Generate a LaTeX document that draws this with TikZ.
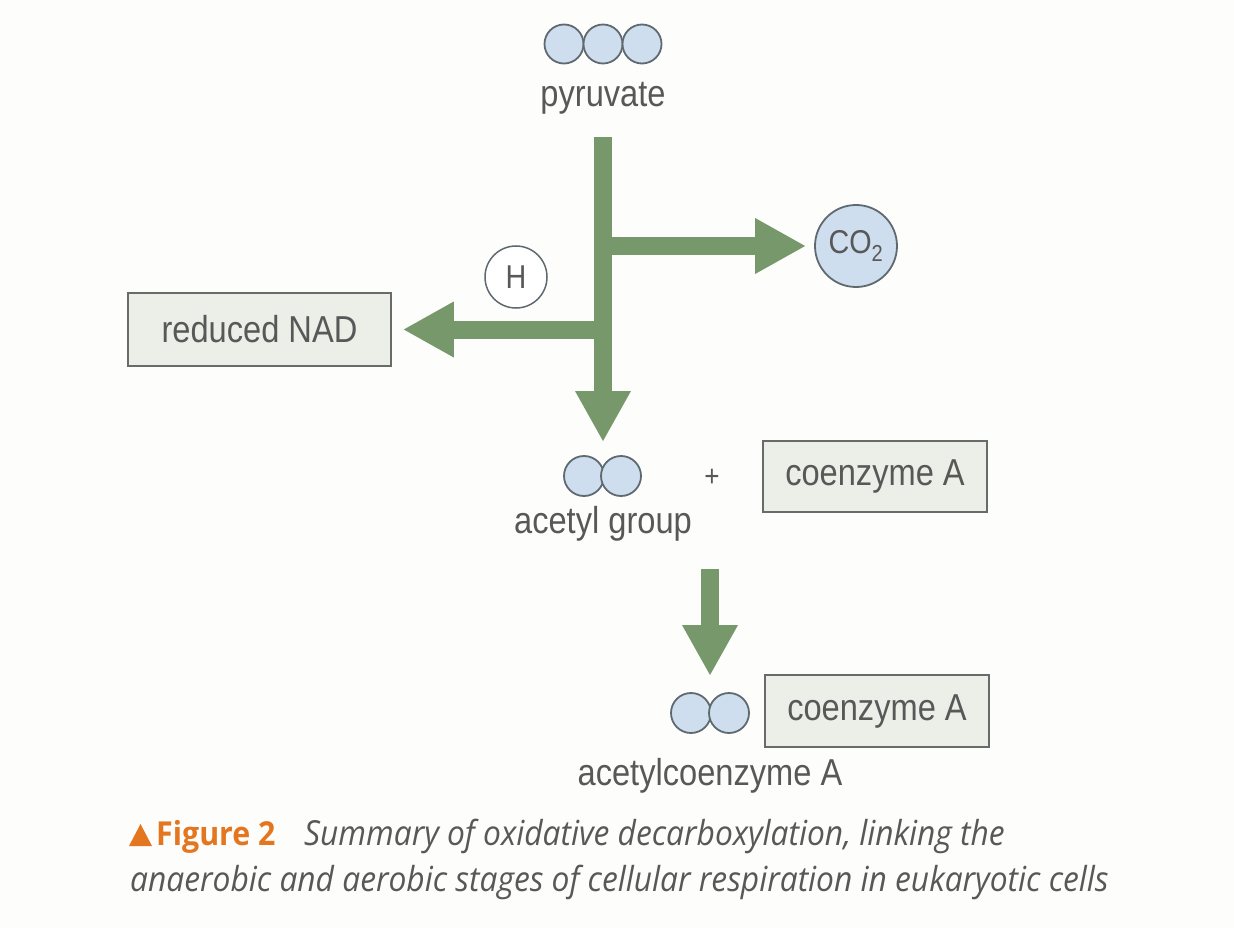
\documentclass[tikz,border=0pt]{standalone}
\usepackage{fontspec}
\setmainfont[FakeStretch=0.87]{Liberation Sans}
\newfontfamily\capfont[FakeStretch=0.92]{Open Sans}
\usetikzlibrary{arrows.meta}
\definecolor{arrowgreen}{RGB}{118,152,106}
\definecolor{molblue}{RGB}{207,222,238}
\definecolor{molline}{RGB}{95,105,112}
\definecolor{boxfill}{RGB}{236,238,232}
\definecolor{boxline}{RGB}{105,107,105}
\definecolor{txt}{RGB}{88,88,88}
\definecolor{figorange}{RGB}{228,118,32}
\definecolor{bg}{RGB}{253,253,251}
\tikzset{
  mol/.style={circle, draw=molline, line width=1.8pt, fill=molblue, minimum size=39pt, inner sep=0pt},
  lbl/.style={text=txt, font=\fontsize{37.5}{40}\selectfont, inner sep=0pt},
  cbox/.style={draw=boxline, line width=1.6pt, fill=boxfill, text=txt, font=\fontsize{37.5}{40}\selectfont, minimum width=224pt, minimum height=71pt, inner sep=0pt},
  flow/.style={draw=arrowgreen, line width=18pt, -{Triangle[width=56pt,length=50pt,line width=0pt]}},
  captxt/.style={text=txt, font=\capfont\itshape\fontsize{34.5}{38}\selectfont, inner sep=0pt, anchor=base west},
}
\begin{document}
\begin{tikzpicture}[x=1pt,y=-1pt]
\useasboundingbox (0,0) rectangle (1234,928);
\fill[bg] (0,0) rectangle (1234,928);

% pyruvate
\node[mol] (p1) at (564,44) {};
\node[mol] (p2) at (603,44) {};
\node[mol] (p3) at (642,44) {};
\node[lbl] (pyr) at (603,98) {pyruvate};

% side products
\node[circle, draw=molline, line width=1.5pt, fill=white, minimum size=62pt, inner sep=0pt, text=txt, font=\fontsize{33}{36}\selectfont] (h) at (516,277) {H};
\node[circle, draw=molline, line width=1.8pt, fill=molblue, minimum size=82pt, inner sep=0pt, text=txt, font=\fontsize{33}{36}\selectfont] (co2) at (856,246) {CO\textsubscript{2}};
\node[cbox, minimum width=263pt, minimum height=73pt] (nad) at (259.5,329.5) {reduced NAD};

% acetyl group + coenzyme A
\node[mol, minimum size=40pt] (a1) at (584,476) {};
\node[mol, minimum size=40pt] (a2) at (621,476) {};
\node[lbl] (acet) at (603,524) {acetyl group};
\node[lbl, font=\fontsize{30}{34}\selectfont] (plus) at (712,478) {+};
\node[cbox] (coa1) at (875,476.5) {coenzyme A};

% acetylcoenzyme A
\node[mol, minimum size=40pt] (b1) at (691,713) {};
\node[mol, minimum size=40pt] (b2) at (729,713) {};
\node[cbox, minimum height=72pt] (coa2) at (877,711) {coenzyme A};
\node[lbl] (acoa) at (710,776) {acetylcoenzyme A};

% arrows
\coordinate (vtop) at (603,137);
\coordinate (vtip) at (603,441);
\draw[flow] (vtop) -- (vtip);
\draw[flow, shorten >=9pt] (co2.west -| vtop) -- (co2.west);
\draw[flow, shorten >=12pt] (nad.east -| vtop) -- (nad.east);
\coordinate (d2top) at (710,569);
\coordinate (d2tip) at (710,675);
\draw[flow] (d2top) -- (d2tip);

% caption
\fill[figorange] (129,846) -- (152,846) -- (140.5,824) -- cycle;
\node[captxt, font=\capfont\bfseries\fontsize{33}{38}\selectfont, text=figorange] (fig) at (156,845) {Figure 2};
\node[captxt] (cap1) at (304,845) {Summary of oxidative decarboxylation, linking the};
\node[captxt] (cap2) at (130,891) {anaerobic and aerobic stages of cellular respiration in eukaryotic cells};
\end{tikzpicture}
\end{document}
